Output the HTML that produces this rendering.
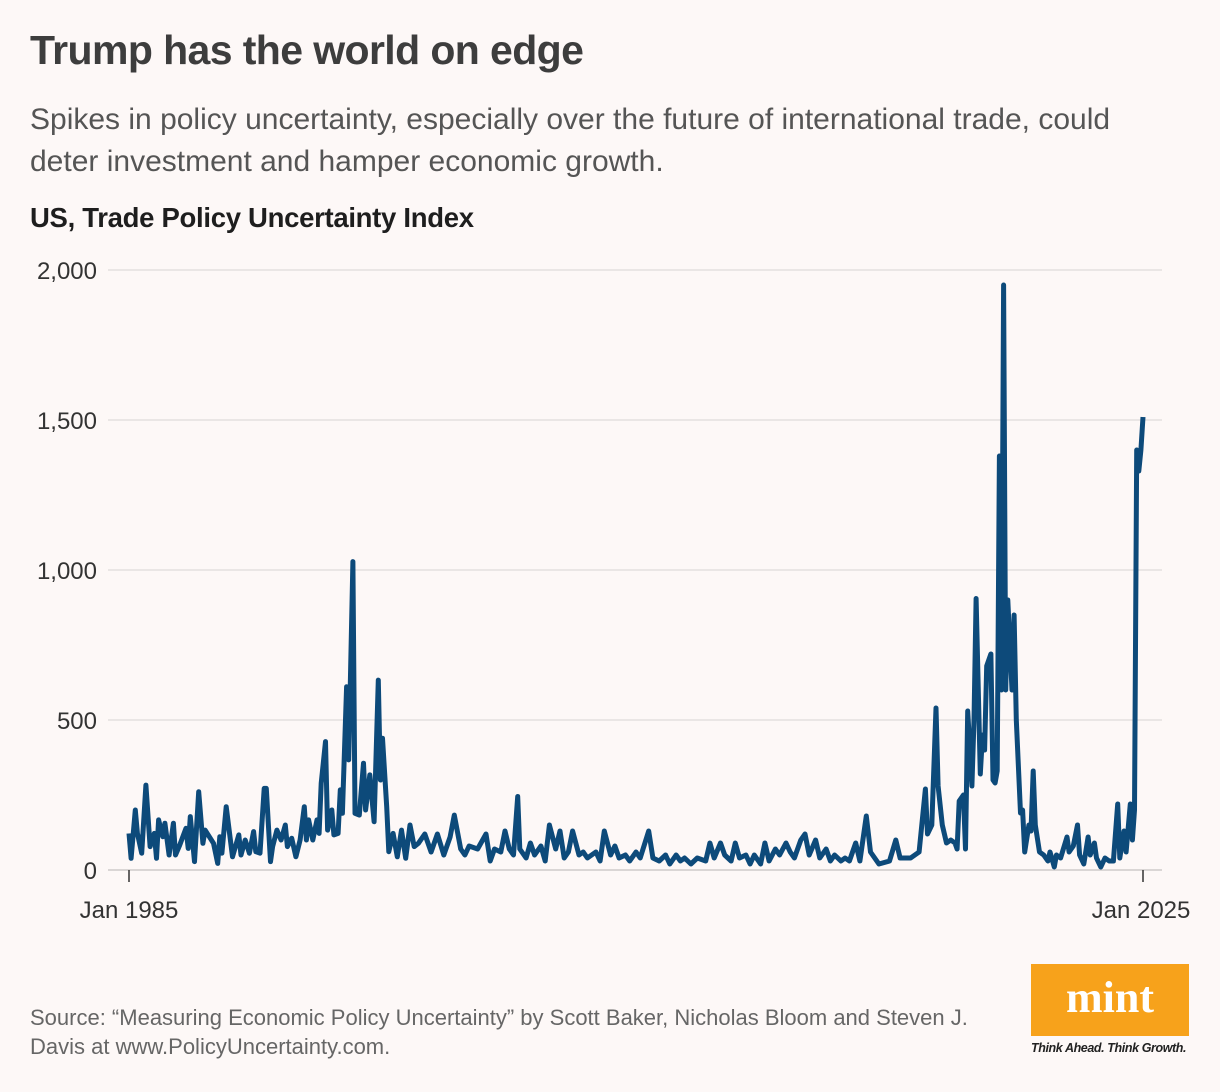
<!DOCTYPE html>
<html><head><meta charset="utf-8">
<style>
html,body{margin:0;padding:0;background:#fdf8f7;}
body{width:1220px;height:1092px;position:relative;overflow:hidden;font-family:"Liberation Sans",sans-serif;}
.t{position:absolute;white-space:nowrap;}
</style></head>
<body>
<div class="t" style="left:30px;top:27px;font-size:41px;font-weight:bold;color:#3d3d3d;letter-spacing:-0.6px;">Trump has the world on edge</div>
<div class="t" style="left:30px;top:99px;font-size:30px;color:#555;line-height:42px;">Spikes in policy uncertainty, especially over the future of international trade, could<br>deter investment and hamper economic growth.</div>
<div class="t" style="left:30px;top:202px;font-size:27.5px;font-weight:bold;color:#1e1e1e;letter-spacing:-0.3px;">US, Trade Policy Uncertainty Index</div>
<svg id="chart" width="1220" height="960" style="position:absolute;left:0;top:0;"></svg>
<div class="t" style="left:30px;top:1003px;font-size:22px;color:#666;line-height:29px;">Source: “Measuring Economic Policy Uncertainty” by Scott Baker, Nicholas Bloom and Steven J.<br>Davis at www.PolicyUncertainty.com.</div>
<div style="position:absolute;left:1031px;top:964px;width:158px;height:72px;background:#f7a21b;">
 <div class="t" style="left:0;width:158px;text-align:center;top:8px;font-family:'Liberation Serif',serif;font-weight:bold;font-size:44px;color:#fff;">mint</div>
</div>
<div class="t" style="left:1031px;top:1041px;font-size:12.5px;font-style:italic;font-weight:bold;color:#222;letter-spacing:-0.4px;">Think Ahead. Think Growth.</div>
<script>
const months=[0,1,3,4,6,8,10,12,13,14,16,17,19,21,22,24,27,28,29,31,33,35,36,38,40,42,43,44,46,48,49,52,53,55,57,59,60,62,64,65,67,68,70,72,74,75,77,79,81,83,84,85,87,89,90,91,93,94,96,97,99,100,101,103,104,106,107,109,111,112,114,116,118,119,120,122,123,125,127,129,131,133,135,137,140,143,146,149,152,154,157,159,161,165,169,171,173,176,178,180,182,184,185,188,190,192,195,197,199,202,204,206,208,210,213,215,217,221,223,225,228,230,232,235,237,240,242,246,248,251,254,256,259,261,263,266,269,273,275,277,280,282,285,287,289,292,294,296,299,301,303,306,308,311,313,315,318,320,322,325,327,330,332,334,337,339,341,344,346,349,351,355,360,363,365,370,374,377,378,380,382,383,385,387,389,391,392,393,395,396,397,399,400,401,403,404,405,406,408,409,410,411,412,413,414,415,416,417,418,419,420,422,423,424,426,427,428,429,431,433,435,436,438,439,441,444,445,447,449,450,452,454,455,457,458,460,462,464,466,468,469,471,472,474,475,476,477,478,479,480];
const values=[122,39,200,122,56,283,78,122,39,167,111,156,50,156,50,83,139,72,178,28,261,89,133,111,89,22,111,56,211,100,44,117,50,100,56,128,61,56,272,272,28,78,133,100,150,78,106,44,100,211,100,167,100,167,122,289,428,133,200,117,122,267,189,611,367,1028,189,183,356,200,317,161,633,300,439,211,61,122,44,133,39,150,78,89,120,60,120,50,110,183,70,50,80,70,120,30,70,60,130,70,50,245,70,40,90,50,80,30,150,70,130,40,60,130,50,60,40,60,30,130,50,80,40,50,30,60,40,130,40,30,50,20,50,30,40,20,40,30,90,40,90,50,30,90,40,50,20,50,20,90,30,70,50,90,60,40,100,120,50,100,40,70,30,50,30,40,30,90,30,180,60,20,30,100,40,40,60,270,120,150,540,280,150,90,100,90,70,230,250,70,530,280,500,905,320,450,400,680,720,300,290,330,1380,600,1950,600,900,750,600,850,500,190,200,60,150,130,330,150,60,50,30,60,10,50,40,110,60,80,150,50,20,110,50,90,40,10,40,30,30,220,40,130,60,220,100,200,1400,1330,1400,1510];
const yTicks=[0,500,1000,1500,2000];
const yTickLabels=["0","500","1,000","1,500","2,000"];
const xTickMonths=[0,480];
const xTickLabels=["Jan 1985","Jan 2025"];

const svg=document.getElementById('chart');
const NS='http://www.w3.org/2000/svg';
const x=m=>129+m*(1143-129)/480;
const y=v=>870-v*(600/2000);
yTicks.forEach((t,i)=>{
  const l=document.createElementNS(NS,'line');
  
  
  l.setAttribute('x1',108);l.setAttribute('x2',1162);
  l.setAttribute('y1',y(t));l.setAttribute('y2',y(t));
  l.setAttribute('stroke',t===0?'#cfcaca':'#e3dfdf');l.setAttribute('stroke-width',1.5);
  svg.appendChild(l);
  const tx=document.createElementNS(NS,'text');
  
  
  tx.setAttribute('x',97);tx.setAttribute('y',y(t)+9);
  tx.setAttribute('text-anchor','end');tx.setAttribute('font-size','24');
  tx.setAttribute('fill','#333');tx.setAttribute('font-family','Liberation Sans, sans-serif');
  tx.textContent=yTickLabels[i];
  svg.appendChild(tx);
});
xTickMonths.forEach((m,i)=>{
  const l=document.createElementNS(NS,'line');
  
  
  l.setAttribute('x1',x(m));l.setAttribute('x2',x(m));
  l.setAttribute('y1',870);l.setAttribute('y2',882);
  l.setAttribute('stroke','#333');l.setAttribute('stroke-width',1.5);
  svg.appendChild(l);
  const tx=document.createElementNS(NS,'text');
  
  
  tx.setAttribute('x',x(m)-(i===1?2:0));tx.setAttribute('y',918);
  tx.setAttribute('text-anchor','middle');tx.setAttribute('font-size','24');
  tx.setAttribute('fill','#333');tx.setAttribute('font-family','Liberation Sans, sans-serif');
  tx.textContent=xTickLabels[i];
  svg.appendChild(tx);
});
const p=document.createElementNS(NS,'path');


p.setAttribute('d',months.map((m,i)=>(i?'L':'M')+x(m).toFixed(1)+','+y(values[i]).toFixed(1)).join(''));
p.setAttribute('fill','none');p.setAttribute('stroke','#0d4a7a');
p.setAttribute('stroke-width',5);p.setAttribute('stroke-linejoin','round');
svg.appendChild(p);
</script>
</body></html>
